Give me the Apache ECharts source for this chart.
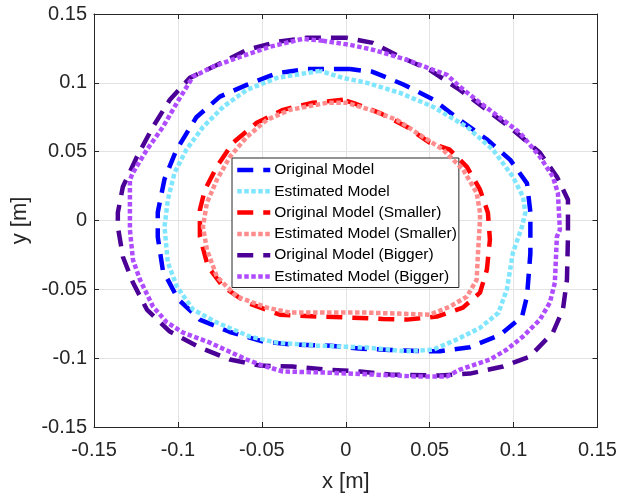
<!DOCTYPE html>
<html>
<head>
<meta charset="utf-8">
<script src="https://cdn.jsdelivr.net/npm/echarts@6/dist/echarts.min.js"></script>
<style>
  html, body { margin: 0; padding: 0; background: #fff; }
  #chart { width: 621px; height: 498px; }
</style>
</head>
<body>
<div id="chart"></div>
<script>
// tick values
const xTicks = [-0.15, -0.1, -0.05, 0, 0.05, 0.1, 0.15];
const yTicks = [-0.15, -0.1, -0.05, 0, 0.05, 0.1, 0.15];

// contours, [x, y] in metres
const originalModel = [
    [0.0025, 0.110], [-0.023, 0.110], [-0.041, 0.107], [-0.059, 0.0985], [-0.075, 0.090],
    [-0.089, 0.075], [-0.101, 0.051], [-0.108, 0.030], [-0.112, 0.006], [-0.112, -0.012],
    [-0.109, -0.036], [-0.100, -0.057], [-0.087, -0.072], [-0.069, -0.081], [-0.049, -0.088],
    [-0.033, -0.090], [-0.009, -0.091], [0.008, -0.093], [0.026, -0.094], [0.046, -0.095],
    [0.056, -0.095], [0.074, -0.092], [0.092, -0.083], [0.105, -0.070], [0.108, -0.055],
    [0.110, -0.024], [0.110, 0.006], [0.108, 0.027], [0.098, 0.044], [0.084, 0.059],
    [0.068, 0.073], [0.052, 0.088], [0.034, 0.099], [0.016, 0.108], [0.0025, 0.110]
];
const estimatedModel = [
    [-0.0154, 0.1087], [-0.041, 0.1036], [-0.059, 0.0949], [-0.073, 0.0826], [-0.085, 0.068],
    [-0.095, 0.0514], [-0.102, 0.0347], [-0.106, 0.015], [-0.108, -0.0045], [-0.106, -0.0306],
    [-0.1006, -0.048], [-0.091, -0.0647], [-0.077, -0.074], [-0.057, -0.0844], [-0.041, -0.0887],
    [-0.017, -0.0909], [0.0126, -0.0923], [0.036, -0.095], [0.052, -0.0938], [0.066, -0.0865],
    [0.080, -0.078], [0.091, -0.067], [0.096, -0.050], [0.0996, -0.0234], [0.105, -0.0045],
    [0.107, 0.0057], [0.1056, 0.0173], [0.0996, 0.0318], [0.0877, 0.0514], [0.0722, 0.068],
    [0.052, 0.0826], [0.0323, 0.0927], [0.0126, 0.100], [-0.0017, 0.1036], [-0.0154, 0.1087]
];
const originalSmaller = [
    [-0.0017, 0.0877], [-0.0195, 0.0855], [-0.0374, 0.0804], [-0.053, 0.071], [-0.0672, 0.0565],
    [-0.0768, 0.0391], [-0.0839, 0.0224], [-0.0869, 0.0078], [-0.0869, -0.0118], [-0.0821, -0.0335],
    [-0.0732, -0.048], [-0.0589, -0.0597], [-0.0392, -0.0684], [-0.0154, -0.0698], [0.0025, -0.0705],
    [0.022, -0.0715], [0.0365, -0.072], [0.0543, -0.0698], [0.0698, -0.0633], [0.080, -0.0524],
    [0.0841, -0.0357], [0.0859, -0.0139], [0.0847, 0.0057], [0.080, 0.0224], [0.0722, 0.039],
    [0.062, 0.0514], [0.050, 0.0565], [0.0365, 0.068], [0.0204, 0.078], [0.0043, 0.0855],
    [-0.0017, 0.0877]
];
const estimatedSmaller = [
    [-0.0112, 0.0855], [-0.0333, 0.0804], [-0.047, 0.0731], [-0.0589, 0.0608], [-0.069, 0.0463],
    [-0.0768, 0.0296], [-0.0827, 0.0129], [-0.0851, -0.0045], [-0.0827, -0.0212], [-0.0768, -0.0408],
    [-0.0649, -0.0553], [-0.047, -0.0633], [-0.0333, -0.0669], [0.0126, -0.0669], [0.050, -0.0684],
    [0.062, -0.0626], [0.0722, -0.0553], [0.078, -0.043], [0.0788, -0.0234], [0.080, 0.0006],
    [0.080, 0.0057], [0.078, 0.020], [0.070, 0.0369], [0.058, 0.0514], [0.046, 0.0608],
    [0.0305, 0.0731], [0.0144, 0.0804], [0.0007, 0.0855], [-0.0112, 0.0855]
];
const originalBigger = [
    [0.0007, 0.1327], [-0.0231, 0.1327], [-0.041, 0.1298], [-0.0589, 0.1239], [-0.0768, 0.113],
    [-0.0929, 0.1036], [-0.1048, 0.0877], [-0.1149, 0.068], [-0.1244, 0.0463], [-0.1328, 0.0245],
    [-0.1358, 0.0057], [-0.1358, -0.0045], [-0.1328, -0.0263], [-0.1268, -0.0451], [-0.1185, -0.0647],
    [-0.1048, -0.0807], [-0.0869, -0.0923], [-0.069, -0.101], [-0.0511, -0.1054], [-0.0315, -0.1061],
    [-0.0112, -0.1083], [0.0085, -0.1097], [0.0263, -0.1119], [0.056, -0.1126], [0.074, -0.1112],
    [0.0937, -0.1061], [0.1097, -0.0988], [0.1234, -0.0814], [0.1294, -0.0647], [0.1318, -0.043],
    [0.1324, -0.0118], [0.1324, 0.0151], [0.1258, 0.0318], [0.1157, 0.0492], [0.0996, 0.0659],
    [0.084, 0.0804], [0.068, 0.0949], [0.050, 0.1094], [0.0323, 0.1189], [0.0162, 0.129],
    [0.0007, 0.1327]
];
const estimatedBigger = [
    [-0.0136, 0.1305], [-0.0255, 0.132], [-0.0452, 0.1262], [-0.063, 0.1189], [-0.0791, 0.1117],
    [-0.0911, 0.1044], [-0.1006, 0.0855], [-0.1089, 0.068], [-0.1185, 0.0514], [-0.1268, 0.0347],
    [-0.1286, 0.0296], [-0.1286, -0.0067], [-0.1268, -0.0285], [-0.1227, -0.0427], [-0.1149, -0.0625],
    [-0.1066, -0.074], [-0.097, -0.0814], [-0.081, -0.0887], [-0.059, -0.101], [-0.0511, -0.1047],
    [-0.0374, -0.1097], [-0.0136, -0.1104], [0.0162, -0.1119], [0.0424, -0.1133], [0.0603, -0.1133],
    [0.068, -0.1083], [0.0859, -0.101], [0.096, -0.0937], [0.1056, -0.0843], [0.1157, -0.072],
    [0.1216, -0.0597], [0.1246, -0.0451], [0.1258, -0.0118], [0.1276, -0.0067], [0.1264, 0.020],
    [0.1234, 0.0318], [0.1157, 0.0463], [0.1038, 0.0637], [0.0937, 0.0731], [0.080, 0.0855],
    [0.068, 0.0971], [0.0603, 0.1058], [0.052, 0.1094], [0.0365, 0.1167], [0.0162, 0.124],
    [0.0025, 0.1276], [-0.0136, 0.1305]
];

const seriesNames = [
    'Original Model', 'Estimated Model',
    'Original Model (Smaller)', 'Estimated Model (Smaller)',
    'Original Model (Bigger)', 'Estimated Model (Bigger)'
];
const seriesData = [originalModel, estimatedModel, originalSmaller, estimatedSmaller, originalBigger, estimatedBigger];
const seriesColors = ['#0000ff', '#80e6ff', '#ff0000', '#ff8c8c', '#4b0096', '#b04cff'];
const seriesDashed = [true, false, true, false, true, false];

const font = '"Liberation Sans", Arial, sans-serif';
const fmt = v => String(+v.toFixed(2));
const dashOf = i => seriesDashed[i] ? [16, 10] : [4.5, 2.5];

const chart = echarts.init(document.getElementById('chart'));

const axisCommon = {
    type: 'value',
    min: -0.15,
    max: 0.15,
    interval: 0.05,
    axisLine: { show: true, onZero: false, lineStyle: { color: '#262626', width: 1 } },
    axisTick: { show: true, inside: true, length: 5, lineStyle: { color: '#262626' } }
};

const option = {
    animation: false,
    backgroundColor: '#fff',
    textStyle: { fontFamily: font },
    grid: { left: 94, right: 23.5, top: 14, bottom: 70.5 },
    xAxis: [
        Object.assign({}, axisCommon, {
            position: 'bottom',
            name: 'x [m]',
            nameLocation: 'middle',
            nameGap: 44,
            nameTextStyle: { fontSize: 22, color: '#262626', fontFamily: font },
            axisLabel: { fontSize: 20, color: '#262626', margin: 13, fontFamily: font,
                formatter: v => fmt(xTicks.find(t => Math.abs(t - v) < 1e-9) ?? v) },
            splitLine: { show: true, lineStyle: { color: '#e3e3e3', width: 1 } }
        }),
        Object.assign({}, axisCommon, {
            position: 'top',
            axisLabel: { show: false },
            splitLine: { show: false }
        })
    ],
    yAxis: [
        Object.assign({}, axisCommon, {
            position: 'left',
            name: 'y [m]',
            nameLocation: 'middle',
            nameGap: 60,
            nameTextStyle: { fontSize: 22, color: '#262626', fontFamily: font },
            axisLabel: { fontSize: 20, color: '#262626', margin: 7, fontFamily: font,
                formatter: v => fmt(yTicks.find(t => Math.abs(t - v) < 1e-9) ?? v) },
            splitLine: { show: true, lineStyle: { color: '#e3e3e3', width: 1 } }
        }),
        Object.assign({}, axisCommon, {
            position: 'right',
            axisLabel: { show: false },
            splitLine: { show: false }
        })
    ],
    legend: {
        orient: 'vertical',
        left: 232,
        top: 158,
        padding: [4, 2, 3, 3],
        itemWidth: 33,
        itemHeight: 10,
        itemGap: 5.3,
        backgroundColor: '#fff',
        borderColor: '#262626',
        borderWidth: 1,
        borderRadius: 0,
        itemStyle: { opacity: 0 },
        textStyle: { fontSize: 15.5, color: '#000', fontFamily: font, lineHeight: 15.5, padding: [0, 0, 0, -1] },
        data: seriesNames.map((n, i) => ({
            name: n,
            lineStyle: { color: seriesColors[i], width: 4.5, type: dashOf(i), cap: 'butt' }
        }))
    },
    series: seriesNames.map((name, i) => ({
        name: name,
        type: 'line',
        data: seriesData[i],
        showSymbol: false,
        symbol: 'none',
        smooth: false,
        color: seriesColors[i],
        lineStyle: {
            color: seriesColors[i],
            width: 4.5,
            type: dashOf(i),
            cap: 'butt'
        },
        z: 2 + i
    }))
};

chart.setOption(option);
</script>
</body>
</html>
